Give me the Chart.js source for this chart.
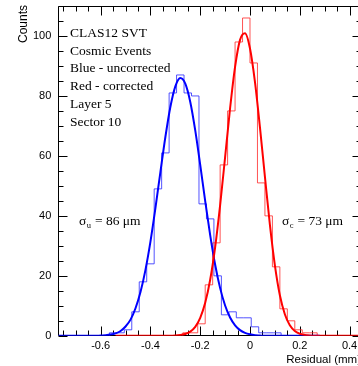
<!DOCTYPE html>
<html>
<head>
<meta charset="utf-8">
<script src="https://cdn.jsdelivr.net/npm/chart.js@4.4.0/dist/chart.umd.min.js"></script>
<style>
	html, body { margin: 0; padding: 0; background: #fff; overflow: hidden; }
	canvas { display: block; }
</style>
</head>
<body>
<canvas id="residuals" width="362" height="366"></canvas>
<script>
(function () {

	'use strict';

	var binWidth = 0.03;

	// uncorrected residuals (blue)
	var blueFirstEdge = -0.565;
	var blueCounts = [1, 1, 2, 8, 18, 24, 49, 61, 81, 87, 81, 80, 44, 39, 20, 7, 8, 6, 6, 3, 1, 1, 1];

	// corrected residuals (red)
	var redFirstEdge = -0.27;
	var redCounts = [1, 1, 4, 17, 31, 57, 75, 98, 106, 91, 51, 40, 23, 9, 5, 2, 1, 1];

	// gaussian fits
	var blueFitX = [-0.77, -0.62, -0.60, -0.58, -0.56, -0.54, -0.52, -0.50, -0.48, -0.46, -0.44, -0.42, -0.40, -0.38, -0.36, -0.34, -0.32, -0.30, -0.28, -0.26, -0.24, -0.22, -0.20, -0.18, -0.16, -0.14, -0.12, -0.10, -0.08, -0.06, -0.04, -0.02, 0.00, 0.02, 0.04, 0.06, 0.28];
	var blueFitY = [0, 0, 0.1, 0.2, 0.4, 0.8, 1.6, 3.1, 5.4, 9.2, 14.6, 22.0, 31.4, 42.6, 54.6, 66.3, 76.3, 83.2, 86.0, 84.1, 78.0, 68.5, 57.0, 44.9, 33.6, 23.7, 15.9, 10.1, 6.1, 3.5, 1.9, 1.0, 0.5, 0.2, 0.1, 0, 0];

	var redFitX = [-0.54, -0.32, -0.30, -0.28, -0.26, -0.24, -0.22, -0.20, -0.18, -0.16, -0.14, -0.12, -0.10, -0.08, -0.06, -0.04, -0.02, 0.00, 0.02, 0.04, 0.06, 0.08, 0.10, 0.12, 0.14, 0.16, 0.18, 0.20, 0.22, 0.24, 0.26, 0.45];
	var redFitY = [0, 0, 0.1, 0.3, 0.6, 1.4, 3.0, 6.0, 11.0, 18.7, 29.6, 43.6, 59.6, 75.9, 89.7, 98.7, 100.9, 95.8, 84.6, 69.5, 53.0, 37.0, 23.5, 13.5, 7.2, 3.5, 1.6, 0.7, 0.3, 0.1, 0, 0];

	var xTickValues = [-0.6, -0.4, -0.2, 0, 0.2, 0.4];
	var yTickValues = [0, 20, 40, 60, 80, 100];

	var infoLines = ['CLAS12 SVT', 'Cosmic Events', 'Blue - uncorrected', 'Red - corrected', 'Layer 5', 'Sector 10'];

	function histPoints(firstEdge, counts) {
		var pts = [{x: firstEdge, y: 0}];
		counts.forEach(function (c, i) {
			pts.push({x: +(firstEdge + i * binWidth).toFixed(3), y: c});
		});
		pts.push({x: +(firstEdge + counts.length * binWidth).toFixed(3), y: 0});
		return pts;
	}

	function fitPoints(xs, ys) {
		return xs.map(function (x, i) { return {x: x, y: ys[i]}; });
	}

	function setTicks(values) {
		return function (scale) {
			scale.ticks = values.map(function (v) { return {value: v}; });
		};
	}

	// no extra room for the end labels, the frame is placed by layout padding
	function noEdgePadding(scale) {
		scale.paddingTop = 0;
		scale.paddingBottom = 0;
		scale.paddingLeft = 0;
		scale.paddingRight = 0;
	}

	// ROOT style frame: box plus inward ticks on all four sides
	var frame = {
		id: 'frame',
		beforeDatasetsDraw: function (chart) {
			var ctx = chart.ctx;
			var a = chart.chartArea;
			var xs = chart.scales.x;
			var ys = chart.scales.y;
			var l = Math.round(a.left) + 0.5, r = Math.round(a.right) - 0.5;
			var t = Math.round(a.top) + 0.5, b = Math.round(a.bottom) - 0.5;
			var k, p, len;

			ctx.save();
			ctx.strokeStyle = '#000';
			ctx.lineWidth = 1;
			ctx.beginPath();
			ctx.rect(l, t, r - l, b - t);

			for (k = 0; k <= 22; k++) {
				p = Math.round(ys.getPixelForValue(k * 5)) + 0.5;
				len = k % 4 === 0 ? 9 : 5;
				ctx.moveTo(l, p); ctx.lineTo(l + len, p);
				ctx.moveTo(r, p); ctx.lineTo(r - len, p);
			}
			for (k = -15; k <= 9; k++) {
				p = Math.round(xs.getPixelForValue(k * 0.05)) + 0.5;
				len = k % 4 === 0 ? 9 : 5;
				ctx.moveTo(p, b); ctx.lineTo(p, b - len);
				ctx.moveTo(p, t); ctx.lineTo(p, t + len);
			}
			ctx.stroke();
			ctx.restore();
		},
		afterDraw: function (chart) {
			var ctx = chart.ctx;
			ctx.save();
			ctx.fillStyle = '#000';

			// axis titles
			ctx.font = '11.5px "Liberation Sans", Arial, sans-serif';
			ctx.textAlign = 'right';
			ctx.fillText('Residual (mm)', 361, 363);

			ctx.save();
			ctx.font = '12px "Liberation Sans", Arial, sans-serif';
			ctx.translate(27, 5);
			ctx.rotate(-Math.PI / 2);
			ctx.textAlign = 'right';
			ctx.fillText('Counts', 0, 0);
			ctx.restore();

			// info block
			ctx.textAlign = 'left';
			ctx.font = '13.5px "Liberation Serif", "Times New Roman", serif';
			infoLines.forEach(function (line, i) {
				ctx.fillText(line, 70, 36.7 + i * 17.86);
			});

			drawSigma(ctx, 79, 225, 'u', ' = 86 \u03bcm');
			drawSigma(ctx, 282, 225, 'c', ' = 73 \u03bcm');
			ctx.restore();
		}
	};

	function drawSigma(ctx, x, y, sub, rest) {
		ctx.font = '13.5px "Liberation Serif", "Times New Roman", serif';
		ctx.fillText('\u03c3', x, y);
		var w = ctx.measureText('\u03c3').width;
		ctx.font = '8.5px "Liberation Serif", "Times New Roman", serif';
		ctx.fillText(sub, x + w + 0.5, y + 3);
		var ws = ctx.measureText(sub).width;
		ctx.font = '13.5px "Liberation Serif", "Times New Roman", serif';
		ctx.fillText(rest, x + w + ws + 1, y);
	}

	var tickFont = {family: '"Liberation Sans", Arial, sans-serif', size: 11};

	new Chart(document.getElementById('residuals'), {

		type: 'line',
		data: {
			datasets: [{
				label: 'Corrected fit',
				data: fitPoints(redFitX, redFitY),
				borderColor: '#ff0000',
				borderWidth: 2,
				pointRadius: 0,
				cubicInterpolationMode: 'monotone',
				order: 0
			}, {
				label: 'Uncorrected fit',
				data: fitPoints(blueFitX, blueFitY),
				borderColor: '#0000ff',
				borderWidth: 2,
				pointRadius: 0,
				cubicInterpolationMode: 'monotone',
				order: 1
			}, {
				label: 'Corrected',
				data: histPoints(redFirstEdge, redCounts),
				borderColor: 'rgba(255, 40, 40, 0.8)',
				borderWidth: 1,
				pointRadius: 0,
				stepped: true,
				order: 2
			}, {
				label: 'Uncorrected',
				data: histPoints(blueFirstEdge, blueCounts),
				borderColor: 'rgba(40, 40, 255, 0.8)',
				borderWidth: 1,
				pointRadius: 0,
				stepped: true,
				order: 3
			}]
		},
		options: {
			responsive: false,
			animation: false,
			devicePixelRatio: 1,
			layout: {
				padding: {left: 26, right: 0, top: 6, bottom: 9}
			},
			plugins: {
				legend: {display: false},
				tooltip: {enabled: false}
			},
			scales: {
				x: {
					type: 'linear',
					min: -0.77,
					max: 0.45,
					afterBuildTicks: setTicks(xTickValues),
					afterFit: noEdgePadding,
					grid: {display: false, drawTicks: false},
					border: {display: false},
					ticks: {
						font: tickFont,
						color: '#000',
						padding: 4,
						maxRotation: 0,
						autoSkip: false,
						callback: function (v) { return String(v); }
					}
				},
				y: {
					min: 0,
					max: 110,
					afterBuildTicks: setTicks(yTickValues),
					afterFit: noEdgePadding,
					grid: {display: false, drawTicks: false},
					border: {display: false},
					ticks: {
						font: tickFont,
						color: '#000',
						padding: 7,
						autoSkip: false,
						callback: function (v) { return String(v); }
					}
				}
			}
		},
		plugins: [frame]
	});

})();
</script>
</body>
</html>
